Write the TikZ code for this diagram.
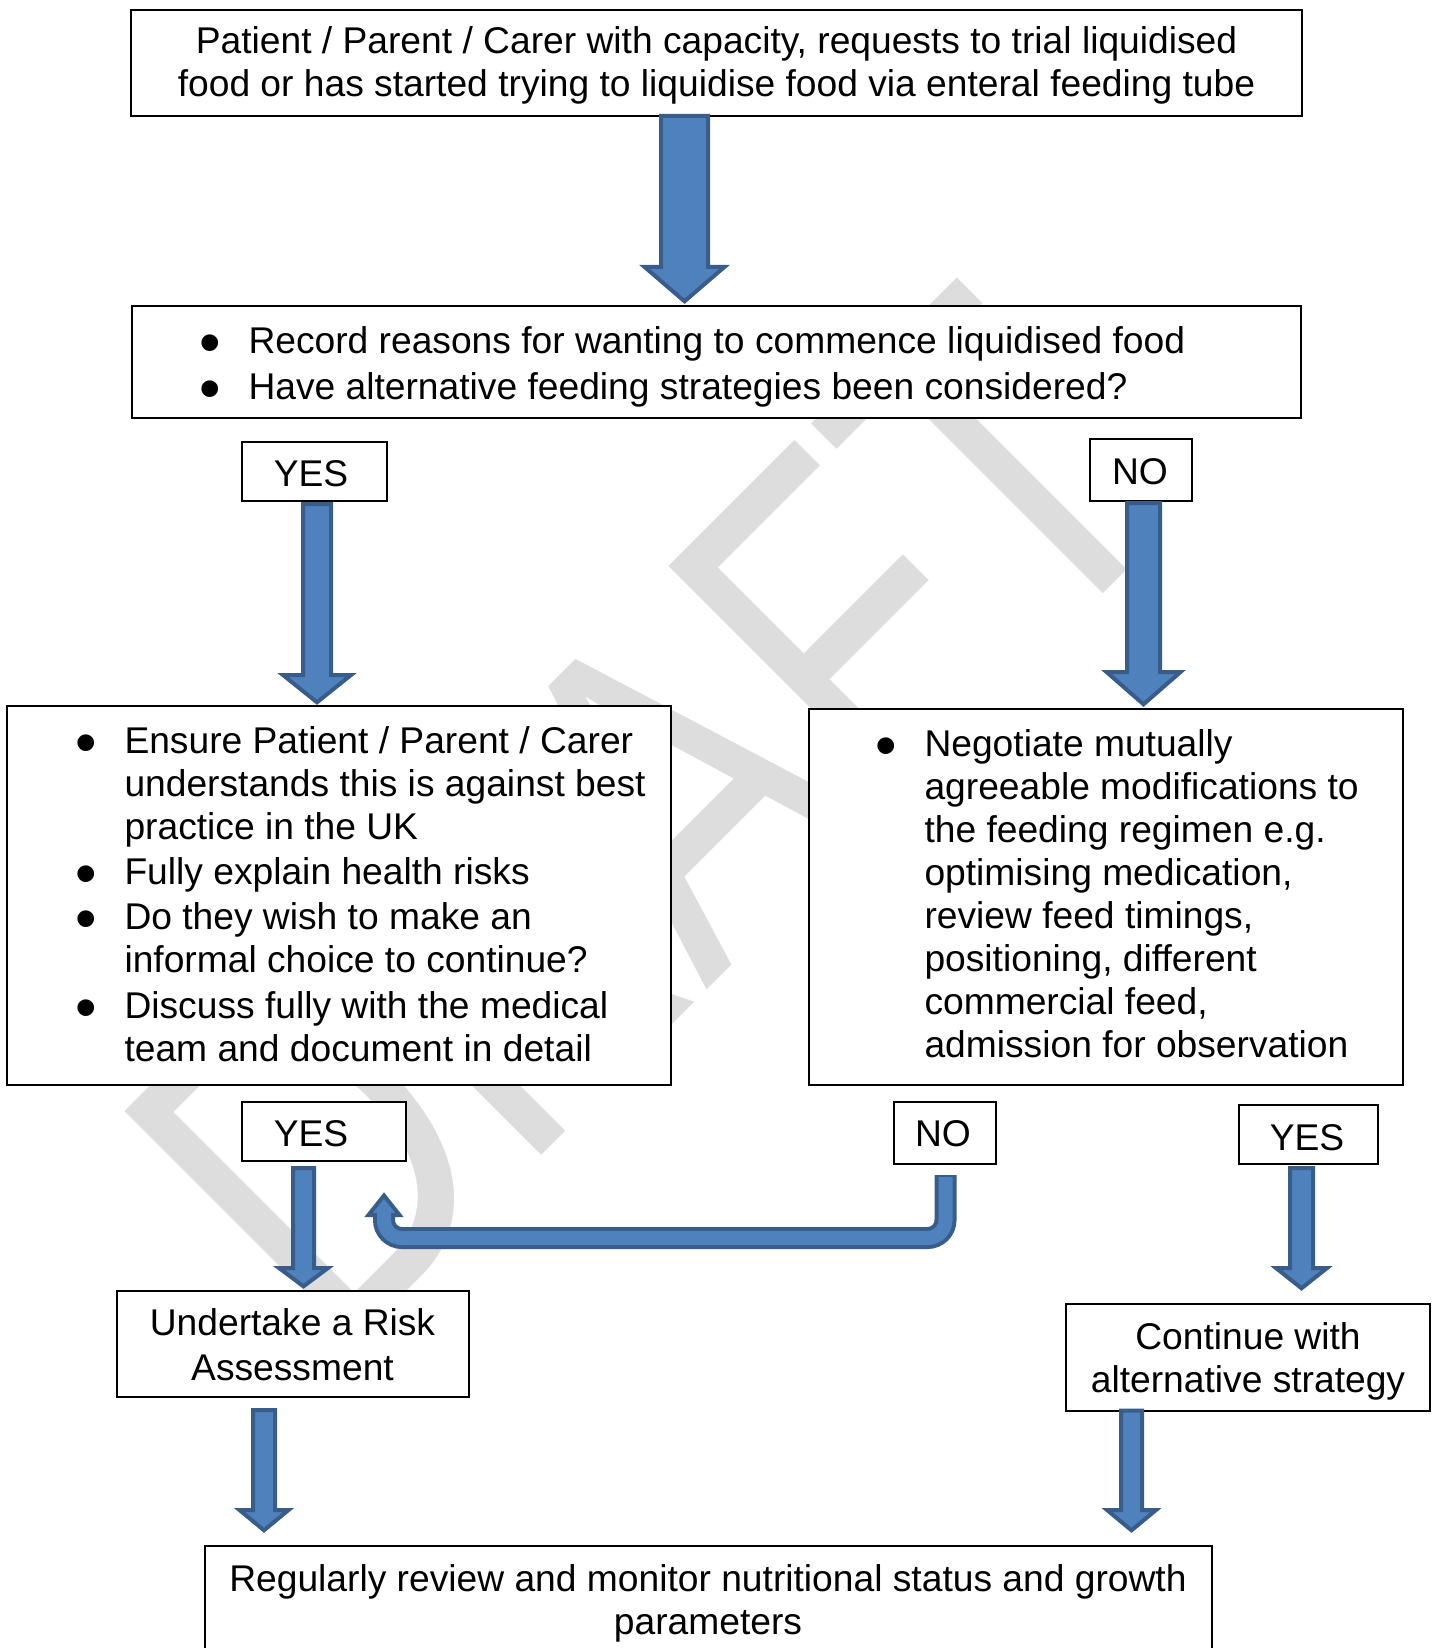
\documentclass[tikz,border=0pt]{standalone}
\usepackage{fontspec}
\usepackage{graphicx}
\setmainfont{Liberation Sans}
\usetikzlibrary{calc}
\definecolor{afill}{HTML}{4F81BD}
\definecolor{aline}{HTML}{385D8A}
\definecolor{wmgray}{RGB}{221,221,221}
\tikzset{
  box/.style={draw=black, line width=1pt, fill=white, inner sep=0pt, outer sep=0pt, anchor=north west},
  txt/.style={inner sep=0pt, outer sep=0pt, font=\fontsize{18.6pt}{21.5pt}\selectfont},
  barrow/.style={fill=afill, draw=aline, line width=2pt, line join=miter},
  wm/.style={inner sep=0pt, outer sep=0pt, text=wmgray, font=\fontsize{182.5pt}{190pt}\selectfont},
}
\newcommand{\bul}{\makebox[22.5pt][l]{\hspace*{-2pt}\raisebox{-5pt}{\scalebox{1.65}{\textbullet}}}}
% #1 x-coordinate, #2 start node, #3 end node, #4 start gap, #5 end gap, #6 shaft half width, #7 head half width, #8 head length
\newcommand{\blockarrow}[8]{%
  \filldraw[barrow] let \p1=(#1 |- #2.south), \p2=(#1 |- #3.north) in
    (\x1-#6,\y1-#4) -- (\x1-#6,\y2+#5+#8) -- (\x1-#7,\y2+#5+#8) -- (\x1,\y2+#5)
    -- (\x1+#7,\y2+#5+#8) -- (\x1+#6,\y2+#5+#8) -- (\x1+#6,\y1-#4) -- cycle;}
\begin{document}
\begin{tikzpicture}[x=0.5pt,y=-0.5pt]
\useasboundingbox (0,0) rectangle (1432,1648);
\fill[white] (0,0) rectangle (1432,1648);

% watermark
\node[wm, anchor=base west, rotate=45, yscale=1.3] (wmark) at (334,1363) {DRAFT};

% boxes
\node[box, minimum width=585.5pt, minimum height=52.75pt] (b1) at (131,10.5) {};
\node[box, minimum width=584.75pt, minimum height=56.25pt] (b2) at (131.5,305.5) {};
\node[box, minimum width=72.5pt, minimum height=29.75pt] (y1) at (242,441.5) {};
\node[box, minimum width=51.25pt, minimum height=31pt] (n1) at (1089.5,439) {};
\node[box, minimum width=332pt, minimum height=189.75pt] (bl) at (7,705.5) {};
\node[box, minimum width=297pt, minimum height=188pt] (br) at (809,709) {};
\node[box, minimum width=81.75pt, minimum height=29.5pt] (y2) at (242,1102) {};
\node[box, minimum width=51pt, minimum height=31pt] (n2) at (894,1102) {};
\node[box, minimum width=69.5pt, minimum height=29.75pt] (y3) at (1239,1104.5) {};
\node[box, minimum width=175.75pt, minimum height=53pt] (ur) at (117,1291) {};
\node[box, minimum width=182pt, minimum height=53.25pt] (ca) at (1066,1304) {};
\node[box, minimum width=503.75pt, minimum height=80pt] (rr) at (204.5,1546) {};

% texts
\node[txt, anchor=base] (t1) at (716.5,54) {\begin{tabular}[t]{@{}c@{}}Patient / Parent / Carer with capacity, requests to trial liquidised\\ food or has started trying to liquidise food via enteral feeding tube\end{tabular}};
\node[txt, anchor=base west] (t2) at (203.5,353) {\begin{tabular}[t]{@{}l@{}l@{}}\bul & Record reasons for wanting to commence liquidised food\\[1.5pt] \bul & Have alternative feeding strategies been considered?\end{tabular}};
\node[txt, anchor=base] (ty1) at (311,486) {YES};
\node[txt, anchor=base] (tn1) at (1140,484) {NO};
\node[txt, anchor=base west] (tl) at (79.5,753) {\begin{tabular}[t]{@{}l@{}l@{}}
\bul & Ensure Patient / Parent / Carer\\
 & understands this is against best\\
 & practice in the UK\\[1.25pt]
\bul & Fully explain health risks\\[1pt]
\bul & Do they wish to make an\\
 & informal choice to continue?\\[1.25pt]
\bul & Discuss fully with the medical\\
 & team and document in detail\end{tabular}};
\node[txt, anchor=base west] (tr) at (879.5,756) {\begin{tabular}[t]{@{}l@{}l@{}}
\bul & Negotiate mutually\\
 & agreeable modifications to\\
 & the feeding regimen e.g.\\
 & optimising medication,\\
 & review feed timings,\\
 & positioning, different\\
 & commercial feed,\\
 & admission for observation\end{tabular}};
\node[txt, anchor=base] (ty2) at (311,1146) {YES};
\node[txt, anchor=base] (tn2) at (943,1146) {NO};
\node[txt, anchor=base] (ty3) at (1307,1150) {YES};
\node[txt, anchor=base] (tu) at (292.5,1335) {\begin{tabular}[t]{@{}c@{}}Undertake a Risk\\[1pt] Assessment\end{tabular}};
\node[txt, anchor=base] (tc) at (1248,1349) {\begin{tabular}[t]{@{}c@{}}Continue with\\ alternative strategy\end{tabular}};
\node[txt, anchor=base] (tb) at (708,1591) {\begin{tabular}[t]{@{}c@{}}Regularly review and monitor nutritional status and growth\\ parameters\end{tabular}};

% arrow x positions
\coordinate (a1x) at (684.5,0);
\coordinate (a2x) at (317,0);
\coordinate (a3x) at (1143.5,0);
\coordinate (a4x) at (303.5,0);
\coordinate (a5x) at (1301.5,0);
\coordinate (a6x) at (264,0);
\coordinate (a7x) at (1131.5,0);

\blockarrow{a1x}{b1}{b2}{0pt}{2.1pt}{11.75pt}{20pt}{17.2pt}
\blockarrow{a2x}{y1}{bl}{1.5pt}{1.6pt}{7pt}{17pt}{13.65pt}
\blockarrow{a3x}{n1}{br}{1pt}{2.35pt}{8.25pt}{18.5pt}{16.15pt}
\blockarrow{a4x}{y2}{ur}{3.5pt}{2.35pt}{5.25pt}{12.25pt}{9.15pt}
\blockarrow{a5x}{y3}{ca}{2pt}{7.85pt}{5.75pt}{12.75pt}{10.15pt}
\blockarrow{a6x}{ur}{rr}{6.5pt}{7.85pt}{5.5pt}{12.25pt}{10.15pt}
\blockarrow{a7x}{ca}{rr}{0pt}{7.85pt}{5.25pt}{12.25pt}{10.15pt}

% U-turn arrow from NO back to the YES path
\coordinate (us) at ($(n2.south -| 945.5,0)+(0,11)$);
\coordinate (ucy) at (0,1238);
\coordinate (uend) at (384,1195.5);
\coordinate (uhb) at (384,1215);
\draw[aline, line width=11pt, rounded corners=9pt] (us) -- (us |- ucy) -- (uend |- ucy) -- (uhb);
\filldraw[barrow] ($(uhb)+(-15.5,0)$) -- (uend) -- ($(uhb)+(15.5,0)$) -- cycle;
\draw[afill, line width=7pt, rounded corners=9pt] ($(us)+(0,2)$) -- (us |- ucy) -- (uend |- ucy) -- ($(uhb)+(0,-3)$);
\end{tikzpicture}
\end{document}
